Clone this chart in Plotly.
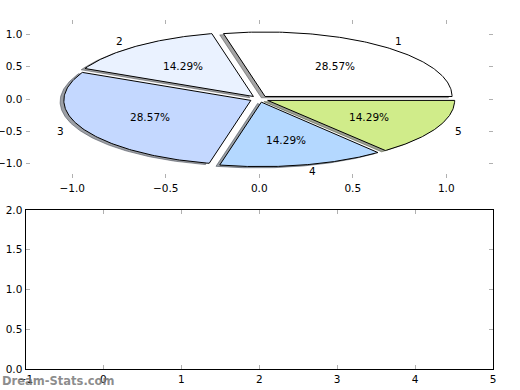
import numpy as np
import plotly.graph_objects as go

# ---- data ----
labels = ["1", "2", "3", "4", "5"]
values = [2, 1, 2, 1, 1]
colors = ["#ffffff", "#eaf2ff", "#c4d8ff", "#b4d8ff", "#d0ec8a"]
explode = [0.05, 0.05, 0.05, 0.05, 0.05]
x_ticks_top = [-1.0, -0.5, 0.0, 0.5, 1.0]
y_ticks_top = [-1.0, -0.5, 0.0, 0.5, 1.0]
x_ticks_bot = [-1, 0, 1, 2, 3, 4, 5]
y_ticks_bot = [0.0, 0.5, 1.0, 1.5, 2.0]

W, H = 520, 390
FONT = "DejaVu Sans"
FS = 10.5

def hex_rgb(h):
    h = h.lstrip("#")
    return tuple(int(h[i:i + 2], 16) for i in (0, 2, 4))

total = float(sum(values))
fracs = [v / total for v in values]
fig = go.Figure()

wedges = []
theta1 = 0.0
for lab, f, col, ex in zip(labels, fracs, colors, explode):
    theta2 = theta1 + 360.0 * f
    mid = np.deg2rad((theta1 + theta2) / 2.0)
    cx, cy = ex * np.cos(mid), ex * np.sin(mid)
    t = np.deg2rad(np.linspace(theta1, theta2, 120))
    xs = np.concatenate([[cx], cx + np.cos(t), [cx]])
    ys = np.concatenate([[cy], cy + np.sin(t), [cy]])
    wedges.append((lab, f, col, cx, cy, mid, xs, ys))
    theta1 = theta2

# shadows (under all wedges)
for lab, f, col, cx, cy, mid, xs, ys in wedges:
    r, g, b = hex_rgb(col)
    sc = "rgba(%d,%d,%d,0.5)" % (0.3 * r, 0.3 * g, 0.3 * b)
    fig.add_trace(go.Scatter(x=xs - 0.02, y=ys - 0.02, mode="lines", fill="toself",
                             fillcolor=sc, line=dict(color=sc, width=1),
                             hoverinfo="skip", showlegend=False,
                             xaxis="x", yaxis="y"))

# wedges
for lab, f, col, cx, cy, mid, xs, ys in wedges:
    fig.add_trace(go.Scatter(x=xs, y=ys, mode="lines", fill="toself",
                             fillcolor=col, line=dict(color="black", width=1),
                             hoverinfo="skip", showlegend=False,
                             xaxis="x", yaxis="y"))

annotations = []
for lab, f, col, cx, cy, mid, xs, ys in wedges:
    xt = cx + 1.1 * np.cos(mid)
    yt = cy + 1.1 * np.sin(mid)
    annotations.append(dict(x=xt, y=yt, xref="x", yref="y", text=lab, showarrow=False,
                            xanchor="left" if xt > 0 else "right", yanchor="middle",
                            font=dict(family=FONT, size=FS, color="black")))
    xp = cx + 0.6 * np.cos(mid)
    yp = cy + 0.6 * np.sin(mid)
    annotations.append(dict(x=xp, y=yp, xref="x", yref="y", text="%.2f%%" % (100 * f),
                            showarrow=False, xanchor="center", yanchor="middle",
                            font=dict(family=FONT, size=FS, color="black")))

annotations.append(dict(x=0.0, y=1 - 381 / H, xref="paper", yref="paper",
                        text="<b>Dream-Stats.com</b>", showarrow=False,
                        xanchor="left", yanchor="middle",
                        font=dict(family=FONT, size=11.5, color="rgba(120,120,120,0.85)")))

# empty bottom axes trace
fig.add_trace(go.Scatter(x=[None], y=[None], mode="markers", showlegend=False,
                         hoverinfo="skip", xaxis="x2", yaxis="y2"))

xd = [25.5 / W, 493 / W]
tick_common = dict(ticks="inside", ticklen=4, tickwidth=1, tickcolor="#b0b0b0",
                   showgrid=False, zeroline=False, automargin=False,
                   tickfont=dict(family=FONT, size=FS, color="black"))

fig.update_layout(
    width=W, height=H,
    margin=dict(l=0, r=0, t=0, b=0, autoexpand=False),
    paper_bgcolor="white", plot_bgcolor="white",
    showlegend=False,
    annotations=annotations,
    xaxis=dict(domain=xd, anchor="y", range=[-1.25, 1.25], tickvals=x_ticks_top,
               tickformat=".1f", showline=True, linecolor="rgba(0,0,0,0)",
               mirror="ticks", **tick_common),
    yaxis=dict(domain=[1 - 178 / H, 1 - 20 / H], anchor="x", range=[-1.225, 1.225],
               tickvals=y_ticks_top, tickformat=".1f", showline=True,
               linecolor="rgba(0,0,0,0)", mirror="ticks", **tick_common),
    xaxis2=dict(domain=xd, anchor="y2", range=[-1, 5], tickvals=x_ticks_bot,
                tickformat="d", showline=True, linecolor="black", linewidth=1,
                mirror="ticks", **tick_common),
    yaxis2=dict(domain=[1 - 369 / H, 1 - 210 / H], anchor="x2", range=[0, 2],
                tickvals=y_ticks_bot, tickformat=".1f", showline=True,
                linecolor="black", linewidth=1, mirror="ticks", **tick_common),
)

fig.write_html("out.html", config={"displayModeBar": False},
               post_script="document.body.style.margin='0';document.body.style.overflow='hidden';")
